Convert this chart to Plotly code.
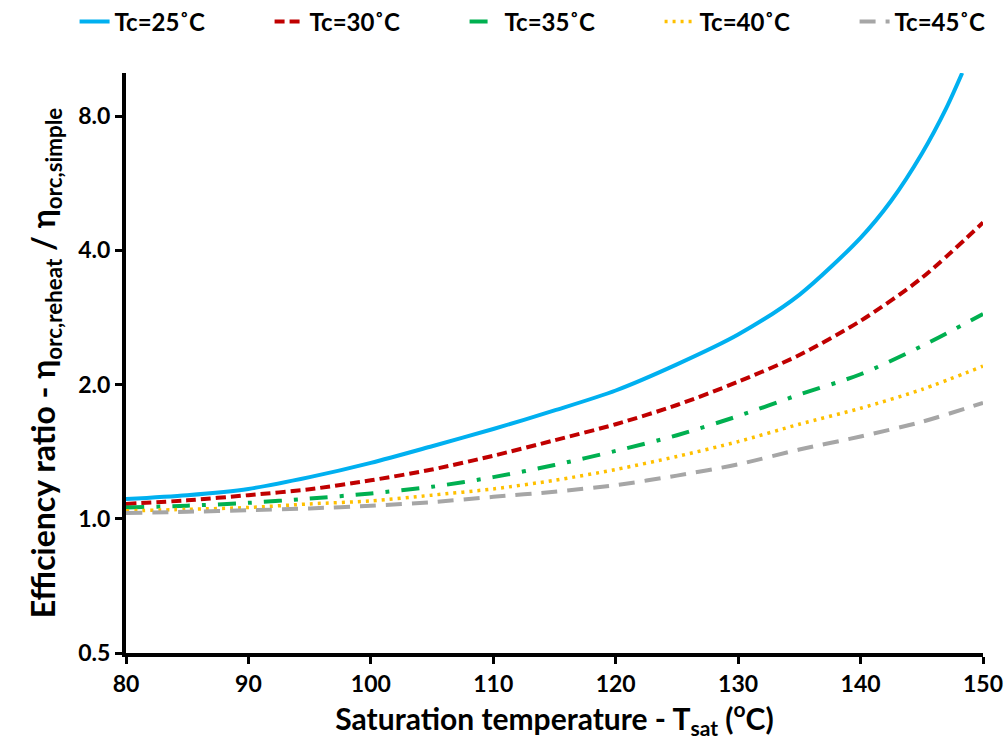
import plotly.graph_objects as go

x_common = [80, 85, 90, 95, 100, 105, 110, 115, 120, 125, 130, 135, 140, 145, 150]

x_25 = [80, 85, 90, 95, 100, 105, 110, 115, 120, 125, 130, 135, 140, 142.5, 145, 147, 148.3]
y_25 = [1.108, 1.13, 1.167, 1.24, 1.335, 1.455, 1.59, 1.75, 1.94, 2.22, 2.59, 3.18, 4.27, 5.17, 6.59, 8.34, 10.0]

y_30 = [1.08, 1.10, 1.13, 1.165, 1.22, 1.29, 1.385, 1.50, 1.63, 1.80, 2.03, 2.33, 2.78, 3.47, 4.62]
y_35 = [1.06, 1.07, 1.086, 1.11, 1.14, 1.18, 1.24, 1.32, 1.42, 1.54, 1.70, 1.90, 2.11, 2.44, 2.88]
y_40 = [1.042, 1.05, 1.06, 1.08, 1.097, 1.13, 1.167, 1.22, 1.29, 1.38, 1.49, 1.63, 1.77, 1.95, 2.20]
y_45 = [1.03, 1.037, 1.045, 1.055, 1.07, 1.09, 1.12, 1.15, 1.19, 1.25, 1.325, 1.43, 1.53, 1.65, 1.82]

names = ["Tc=25˚C", "Tc=30˚C", "Tc=35˚C", "Tc=40˚C", "Tc=45˚C"]
colors = ["#00B0F0", "#C00000", "#00B050", "#FFC000", "#A6A6A6"]
dashes = ["solid", "10px,5px", "18px,12px,4px,12px", "3px,5px", "16px,10px"]
widths = [4, 4, 4, 3.5, 4]

tick_vals = [0.5, 1, 2, 4, 8]
tick_text = ["0.5", "1.0", "2.0", "4.0", "8.0"]
x_ticks = [80, 90, 100, 110, 120, 130, 140, 150]

FONT = "Lato"

fig = go.Figure()
series = [(x_25, y_25), (x_common, y_30), (x_common, y_35), (x_common, y_40), (x_common, y_45)]
for (xs, ys), n, c, d, w in zip(series, names, colors, dashes, widths):
    fig.add_trace(go.Scatter(x=xs, y=ys, mode="lines", name=n,
                             line=dict(color=c, dash=d, width=w, shape="spline", smoothing=0.8)))

fig.update_layout(
    width=1007, height=740,
    margin=dict(l=126, r=24, t=73, b=87, autoexpand=False),
    paper_bgcolor="white", plot_bgcolor="white",
    font=dict(family=FONT, color="black"),
    showlegend=True,
    legend=dict(orientation="h", x=-0.06, xanchor="left", y=1.088, yanchor="middle",
                font=dict(family=FONT, size=24, color="black", weight="bold"),
                entrywidth=150, entrywidthmode="pixels", bgcolor="rgba(0,0,0,0)",
                itemwidth=30),
    xaxis=dict(range=[80, 150], tickvals=x_ticks, showgrid=False, zeroline=False,
               showline=True, linecolor="black", linewidth=4,
               ticks="outside", ticklen=7, tickwidth=3, tickcolor="black",
               tickfont=dict(family=FONT, size=23, color="black", weight="bold"),
               title=dict(text="Saturation temperature - T<sub>sat</sub> (<sup>o</sup>C)",
                          font=dict(family=FONT, size=30, color="black", weight="bold"),
                          standoff=6)),
    yaxis=dict(type="log", range=[-0.30103, 1.0], tickvals=tick_vals, ticktext=tick_text,
               showgrid=False, zeroline=False,
               showline=True, linecolor="black", linewidth=4,
               ticks="outside", ticklen=7, tickwidth=3, tickcolor="black",
               tickfont=dict(family=FONT, size=23, color="black", weight="bold"),
               title=dict(text="Efficiency ratio - η<sub>orc,reheat</sub> / η<sub>orc,simple</sub>",
                          font=dict(family=FONT, size=32, color="black", weight="bold"),
                          standoff=14)),
)

fig.write_html("out.html")
